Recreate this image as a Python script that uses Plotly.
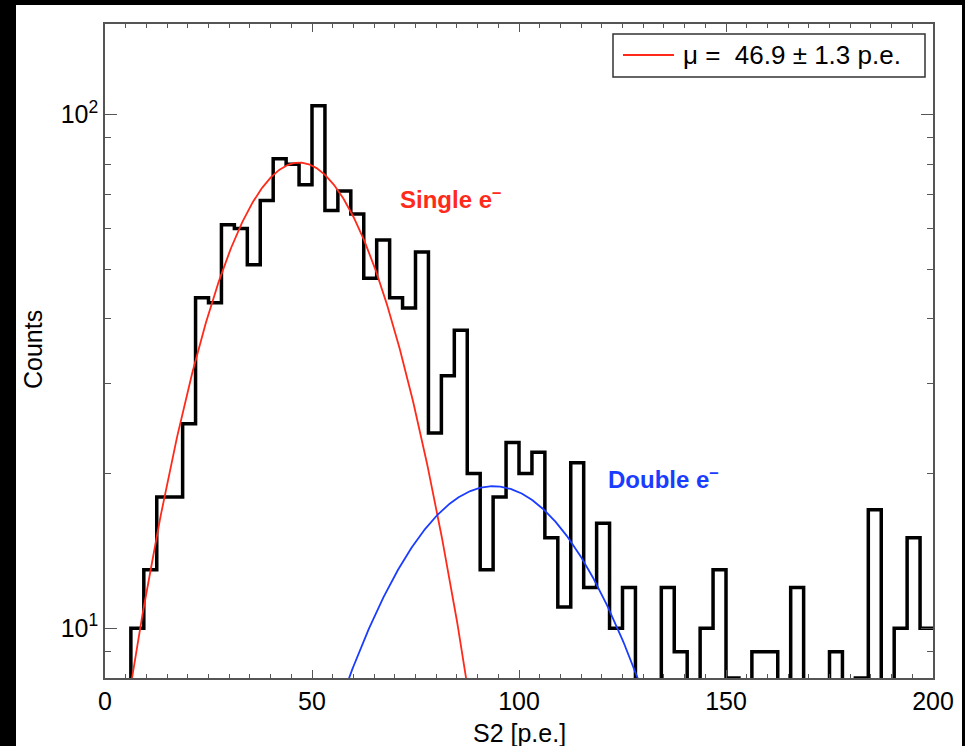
import numpy as np
import plotly.graph_objects as go

# Histogram of S2 signal sizes: 64 bins of 3.125 p.e. between 0 and 200
bin_lo, bin_hi, n_bins = 0.0, 200.0, 64
counts = [3, 6, 10, 13, 18, 18, 25, 44, 43, 61, 60, 51, 68, 82, 80, 73,
          104, 65, 71, 64, 48, 57, 44, 42, 54, 24, 31, 38, 20, 13, 18, 23,
          20, 22, 15, 11, 21, 12, 16, 10, 12, 7, 6, 12, 9, 7, 10, 13,
          8, 6, 9, 9, 7, 12, 6, 7, 9, 6, 8, 17, 7, 10, 15, 10]

# Gaussian fit parameters (single and double electron peaks)
single_amp, single_mu, single_sigma, single_err = 80.6, 46.9, 18.8, 1.3
double_amp = 18.9
double_mu = 2 * single_mu
double_sigma = np.sqrt(2) * single_sigma

x_ticks = [0, 50, 100, 150, 200]
y_ticks = [10, 100]
y_ticktext = ["10<sup>1</sup>", "10<sup>2</sup>"]
y_minor = [9, 20, 30, 40, 50, 60, 70, 80, 90]

FONT = "Liberation Sans, Arial, Helvetica, sans-serif"

edges = np.linspace(bin_lo, bin_hi, n_bins + 1)
step_y = list(counts) + [counts[-1]]

xs = np.linspace(0, 200, 801)
single_curve = single_amp * np.exp(-0.5 * ((xs - single_mu) / single_sigma) ** 2)
double_curve = double_amp * np.exp(-0.5 * ((xs - double_mu) / double_sigma) ** 2)

fig = go.Figure()
fig.add_trace(go.Scatter(x=edges, y=step_y, mode="lines", line_shape="hv",
                         line=dict(color="black", width=3.5), showlegend=False))
fig.add_trace(go.Scatter(x=xs, y=single_curve, mode="lines",
                         line=dict(color="#ff2a1a", width=1.8), showlegend=False))
fig.add_trace(go.Scatter(x=xs, y=double_curve, mode="lines",
                         line=dict(color="#1a3cff", width=1.8), showlegend=False))

L, R, T, B = 105, 32, 24, 68
W, H = 965, 746
pw, ph = W - L - R, H - T - B


def px_x(p):
    return (p - L) / pw


def px_y(p):
    return (H - B - p) / ph


frame = "#555555"
fig.update_layout(
    width=W, height=H,
    margin=dict(l=L, r=R, t=T, b=B),
    paper_bgcolor="black",
    plot_bgcolor="white",
    font=dict(family=FONT, size=25, color="black"),
    xaxis=dict(range=[0, 200], tickvals=x_ticks, ticks="inside", ticklen=8,
               tickwidth=1.2, tickcolor=frame, showline=True, linecolor=frame,
               linewidth=1.5, mirror="allticks", showgrid=False, zeroline=False,
               tickfont=dict(size=25),
               minor=dict(ticks="inside", dtick=5, ticklen=4, tickcolor=frame,
                          tickwidth=1, showgrid=False)),
    yaxis=dict(type="log", range=[np.log10(8), np.log10(150)],
               tickvals=y_ticks, ticktext=y_ticktext, ticks="inside",
               ticklen=12, tickwidth=1.2, tickcolor=frame, showline=True,
               linecolor=frame, linewidth=1.5, mirror="allticks",
               showgrid=False, zeroline=False, tickfont=dict(size=25),
               minor=dict(ticks="inside", tickmode="array", tickvals=y_minor,
                          ticklen=6, tickcolor=frame, tickwidth=1,
                          showgrid=False)),
    shapes=[
        # white page behind the chart
        dict(type="rect", xref="paper", yref="paper", layer="below",
             x0=px_x(16), x1=px_x(962), y0=px_y(W), y1=px_y(5),
             fillcolor="white", line=dict(width=0)),
        # legend box
        dict(type="rect", xref="paper", yref="paper",
             x0=px_x(613), x1=px_x(925), y0=px_y(77), y1=px_y(34),
             fillcolor="white", line=dict(color="#333333", width=1.5)),
        dict(type="line", xref="paper", yref="paper",
             x0=px_x(623), x1=px_x(674), y0=px_y(55), y1=px_y(55),
             line=dict(color="#ff2a1a", width=2)),
    ],
    annotations=[
        dict(xref="paper", yref="paper", x=px_x(681), y=px_y(55),
             xanchor="left", yanchor="middle", showarrow=False,
             text=f"\u03bc =  {single_mu:.1f} \u00b1 {single_err:.1f} p.e.",
             font=dict(size=26)),
        dict(x=83.5, y=np.log10(68.7), xref="x", yref="y", showarrow=False,
             text="<b>Single e<sup>\u2013</sup></b>",
             font=dict(size=24, color="#ff2a1a")),
        dict(x=134.8, y=np.log10(19.6), xref="x", yref="y", showarrow=False,
             text="<b>Double e<sup>\u2013</sup></b>",
             font=dict(size=24, color="#1a3cff")),
        dict(xref="paper", yref="paper", x=0.5, y=px_y(733),
             xanchor="center", yanchor="middle", showarrow=False,
             text="S2 [p.e.]", font=dict(size=25)),
        dict(xref="paper", yref="paper", x=px_x(33), y=px_y(350),
             xanchor="center", yanchor="middle", showarrow=False,
             textangle=-90, text="Counts", font=dict(size=25)),
    ],
)

fig.write_html("out.html")
